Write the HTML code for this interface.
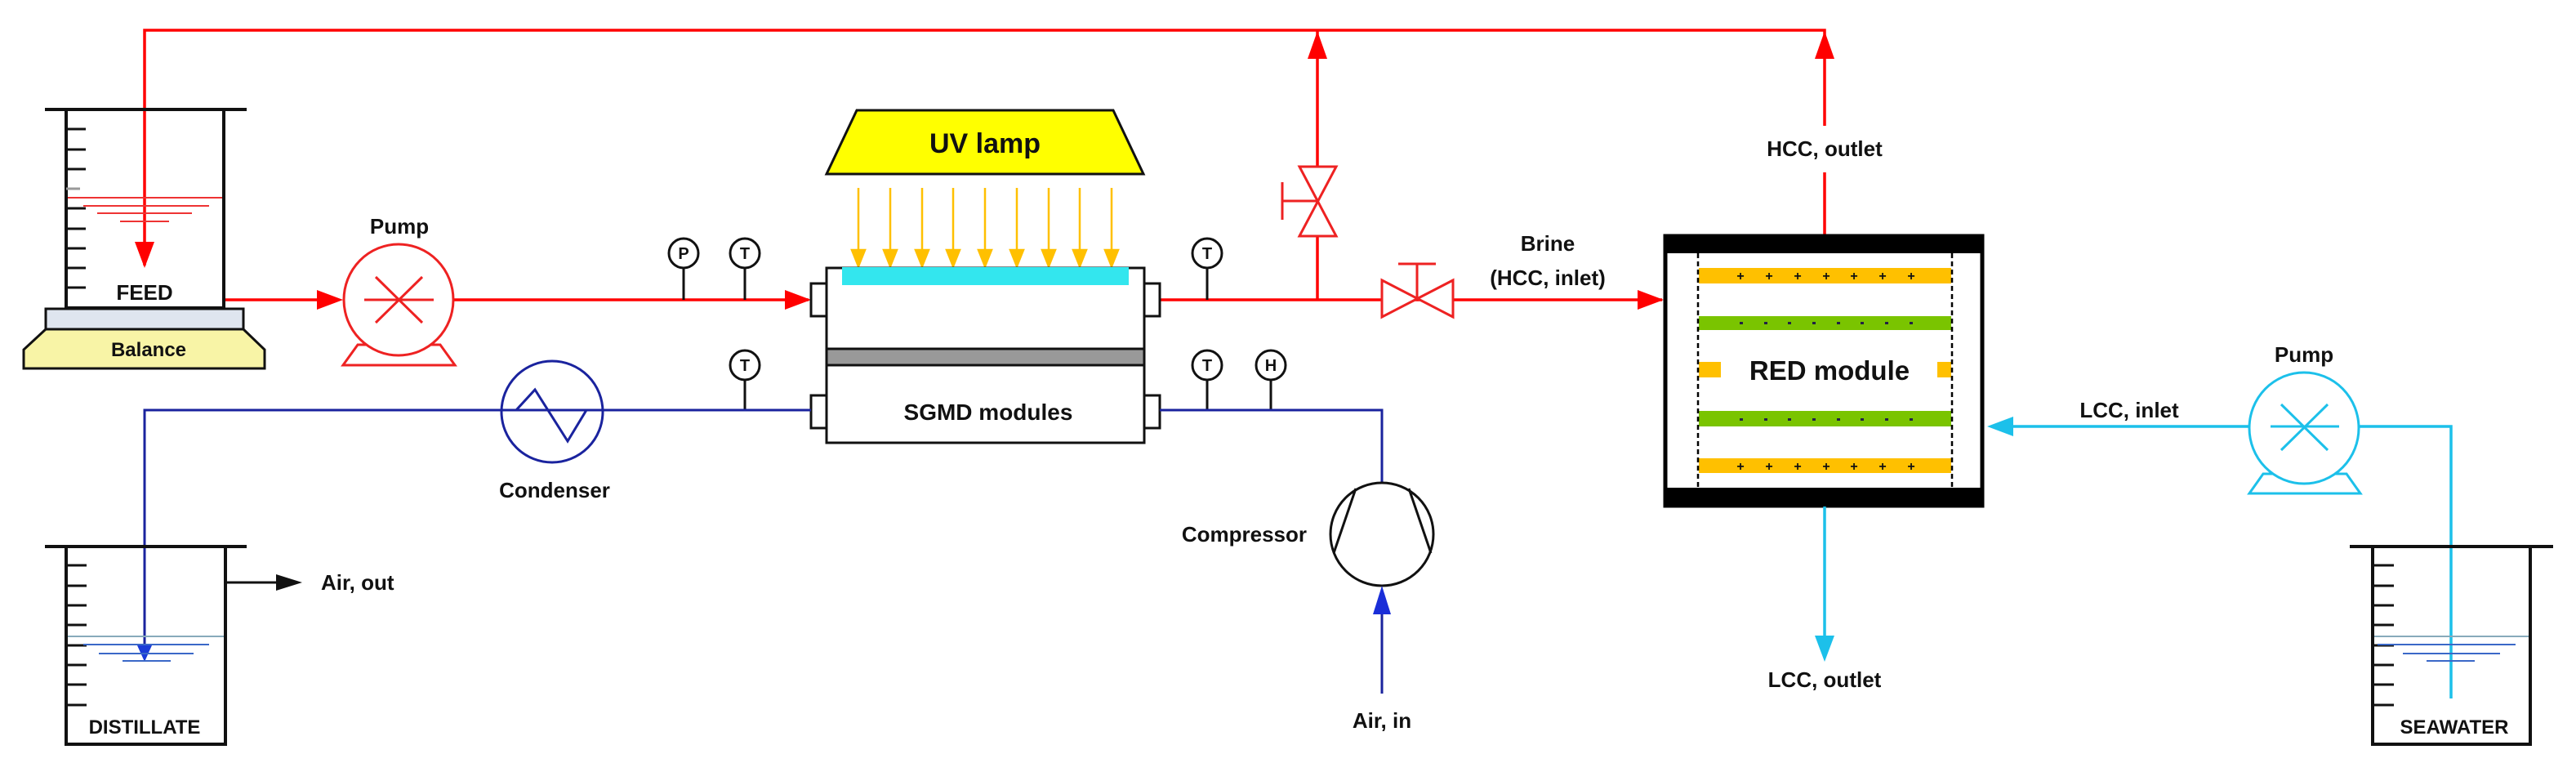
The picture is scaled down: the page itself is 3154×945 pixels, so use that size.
<!DOCTYPE html>
<html><head><meta charset="utf-8"><style>
html,body{margin:0;padding:0;background:#fff;width:3154px;height:945px;overflow:hidden}
svg{display:block}
text{font-family:"Liberation Sans",Arial,sans-serif;font-weight:bold;fill:#111}
</style></head><body>
<svg width="3154" height="945" viewBox="0 0 3154 945" xmlns="http://www.w3.org/2000/svg">
<defs>
<marker id="ar" markerWidth="10" markerHeight="8" refX="10" refY="4" orient="auto" markerUnits="userSpaceOnUse" viewBox="0 0 10 8"><path d="M0,0 L10,4 L0,8 z" fill="#f00"/></marker>
</defs>

<!-- RED top loop -->
<g stroke="#f00" stroke-width="3.5" fill="none">
<polyline points="177,325 177,37 2234,37 2234,154"/>
<line x1="2234" y1="211" x2="2234" y2="290"/>
<line x1="1613" y1="37" x2="1613" y2="367"/>
<line x1="274" y1="367" x2="410" y2="367"/>
<line x1="556" y1="367" x2="990" y2="367"/>
<line x1="1420" y1="367" x2="2035" y2="367"/>
</g>
<g fill="#f00">
<polygon points="177,328 165,296 189,296"/>
<polygon points="420,367 388,355 388,379"/>
<polygon points="993,367 961,355 961,379"/>
<polygon points="2037,367 2005,355 2005,379"/>
<polygon points="1613,38 1601,72 1625,72"/>
<polygon points="2234,38 2222,72 2246,72"/>
</g>

<!-- Feed beaker -->
<g stroke="#111" stroke-width="4" fill="none">
<line x1="55" y1="134" x2="302" y2="134"/>
<polyline points="81,134 81,377 274,377 274,134"/>
</g>
<g stroke="#111" stroke-width="3">
<line x1="81" y1="158" x2="105" y2="158"/><line x1="81" y1="183" x2="105" y2="183"/><line x1="81" y1="207" x2="105" y2="207"/><line x1="81" y1="231" x2="98" y2="231" stroke="#999"/><line x1="81" y1="255" x2="105" y2="255"/><line x1="81" y1="280" x2="105" y2="280"/><line x1="81" y1="304" x2="105" y2="304"/><line x1="81" y1="328" x2="105" y2="328"/><line x1="81" y1="352" x2="105" y2="352"/>
</g>
<g stroke="#e33" stroke-width="2">
<line x1="83" y1="242" x2="272" y2="242"/>
<line x1="102" y1="252" x2="256" y2="252"/>
<line x1="119" y1="261" x2="235" y2="261"/>
<line x1="147" y1="271" x2="207" y2="271"/>
</g>
<text x="177" y="367" font-size="26" text-anchor="middle">FEED</text>
<rect x="56" y="378" width="242" height="25" fill="#dfe5ef" stroke="#111" stroke-width="3"/>
<path d="M56,403 L298,403 L324,428 L324,451 L29,451 L29,428 Z" fill="#f8f4a6" stroke="#111" stroke-width="3"/>
<text x="182" y="436" font-size="24" text-anchor="middle">Balance</text>

<!-- Feed pump -->
<g stroke="#e22" stroke-width="3" fill="#fff">
<polygon points="438,422 420,447 557,447 539,422"/>
<ellipse cx="488" cy="367" rx="67" ry="68"/>
<line x1="446" y1="367" x2="531" y2="367"/>
<line x1="460" y1="339" x2="517" y2="395"/>
<line x1="517" y1="339" x2="460" y2="395"/>
</g>
<text x="489" y="286" font-size="26" text-anchor="middle">Pump</text>

<!-- gauges red line -->
<g stroke="#111" stroke-width="3" fill="#fff">
<line x1="837" y1="328" x2="837" y2="367"/>
<line x1="912" y1="328" x2="912" y2="367"/>
<line x1="1478" y1="328" x2="1478" y2="367"/>
<circle cx="837" cy="310" r="18"/>
<circle cx="912" cy="310" r="18"/>
<circle cx="1478" cy="310" r="18"/>
<line x1="912" y1="445" x2="912" y2="502"/>
<line x1="1478" y1="445" x2="1478" y2="502"/>
<line x1="1556" y1="445" x2="1556" y2="502"/>
<circle cx="912" cy="447" r="18"/>
<circle cx="1478" cy="447" r="18"/>
<circle cx="1556" cy="447" r="18"/>
</g>
<g font-size="20" text-anchor="middle">
<text x="837" y="317">P</text><text x="912" y="317">T</text><text x="1478" y="317">T</text>
<text x="912" y="454">T</text><text x="1478" y="454">T</text><text x="1556" y="454">H</text>
</g>

<!-- UV lamp -->
<polygon points="1049,135 1363,135 1400,213 1012,213" fill="#ffff00" stroke="#111" stroke-width="3"/>
<text x="1206" y="187" font-size="34" text-anchor="middle">UV lamp</text>
<g stroke="#ffc000" stroke-width="2.5" fill="#ffc000">
<line x1="1051" y1="230" x2="1051" y2="310"/><polygon points="1051,326 1043,306 1059,306"/>
<line x1="1090" y1="230" x2="1090" y2="310"/><polygon points="1090,326 1082,306 1098,306"/>
<line x1="1129" y1="230" x2="1129" y2="310"/><polygon points="1129,326 1121,306 1137,306"/>
<line x1="1167" y1="230" x2="1167" y2="310"/><polygon points="1167,326 1159,306 1175,306"/>
<line x1="1206" y1="230" x2="1206" y2="310"/><polygon points="1206,326 1198,306 1214,306"/>
<line x1="1245" y1="230" x2="1245" y2="310"/><polygon points="1245,326 1237,306 1253,306"/>
<line x1="1284" y1="230" x2="1284" y2="310"/><polygon points="1284,326 1276,306 1292,306"/>
<line x1="1322" y1="230" x2="1322" y2="310"/><polygon points="1322,326 1314,306 1330,306"/>
<line x1="1361" y1="230" x2="1361" y2="310"/><polygon points="1361,326 1353,306 1369,306"/>
</g>

<!-- SGMD box -->
<g stroke="#111" stroke-width="3" fill="#fff">
<rect x="993" y="347" width="19" height="40"/>
<rect x="1401" y="347" width="19" height="40"/>
<rect x="993" y="484" width="19" height="40"/>
<rect x="1401" y="484" width="19" height="40"/>
<rect x="1012" y="328" width="389" height="214"/>
</g>
<rect x="1031" y="327" width="351" height="22" fill="#33e6ee"/>
<rect x="1012" y="427" width="389" height="20" fill="#999" stroke="#111" stroke-width="3"/>
<text x="1210" y="514" font-size="28" text-anchor="middle">SGMD modules</text>

<!-- valves -->
<g stroke="#e22" stroke-width="3" fill="#fff">
<polygon points="1591,204 1636,204 1591,289 1636,289"/>
<line x1="1570" y1="246" x2="1613" y2="246"/>
<line x1="1570" y1="223" x2="1570" y2="269"/>
<polygon points="1692,343 1692,388 1779,343 1779,388"/>
<line x1="1735" y1="367" x2="1735" y2="323"/>
<line x1="1712" y1="323" x2="1758" y2="323"/>
</g>
<text x="1895" y="307" font-size="26" text-anchor="middle">Brine</text>
<text x="1895" y="349" font-size="26" text-anchor="middle">(HCC, inlet)</text>
<text x="2234" y="191" font-size="26" text-anchor="middle">HCC, outlet</text>

<!-- Blue line -->
<g stroke="#1a239e" stroke-width="3" fill="none">
<polyline points="993,502 177,502 177,795"/>
<polyline points="1420,502 1692,502 1692,592"/>
</g>
<polygon points="177,810 168,790 186,790" fill="#1a3bd8"/>
<circle cx="676" cy="504" r="62" fill="none" stroke="#1a239e" stroke-width="3"/>
<polyline points="614,502 632,502 655,477 695,540 718,502 738,502" fill="none" stroke="#1a239e" stroke-width="3"/>
<text x="679" y="609" font-size="26" text-anchor="middle">Condenser</text>

<!-- Distillate beaker -->
<g stroke="#111" stroke-width="4" fill="none">
<line x1="55" y1="669" x2="302" y2="669"/>
<polyline points="81,669 81,911 276,911 276,669"/>
</g>
<g stroke="#111" stroke-width="3">
<line x1="81" y1="692" x2="106" y2="692"/><line x1="81" y1="717" x2="106" y2="717"/><line x1="81" y1="741" x2="106" y2="741"/><line x1="81" y1="765" x2="106" y2="765"/><line x1="81" y1="790" x2="106" y2="790"/><line x1="81" y1="814" x2="106" y2="814"/><line x1="81" y1="838" x2="106" y2="838"/><line x1="81" y1="863" x2="106" y2="863"/>
</g>
<g stroke="#3a68c8" stroke-width="2">
<line x1="83" y1="779" x2="274" y2="779" stroke="#8ab"/>
<line x1="102" y1="789" x2="256" y2="789"/>
<line x1="121" y1="800" x2="237" y2="800"/>
<line x1="150" y1="809" x2="209" y2="809"/>
</g>
<text x="177" y="898" font-size="24" text-anchor="middle">DISTILLATE</text>
<line x1="276" y1="713" x2="340" y2="713" stroke="#111" stroke-width="3"/>
<polygon points="370,713 338,703 338,723" fill="#111"/>
<text x="393" y="722" font-size="26">Air, out</text>

<!-- Compressor -->
<ellipse cx="1692" cy="654" rx="63" ry="63" fill="#fff" stroke="#111" stroke-width="3"/>
<line x1="1660" y1="598" x2="1633" y2="677" stroke="#111" stroke-width="3"/>
<line x1="1725" y1="598" x2="1752" y2="677" stroke="#111" stroke-width="3"/>
<text x="1600" y="663" font-size="26" text-anchor="end">Compressor</text>
<line x1="1692" y1="849" x2="1692" y2="740" stroke="#1a239e" stroke-width="3"/>
<polygon points="1692,717 1681,752 1703,752" fill="#1a2ed8"/>
<text x="1692" y="891" font-size="26" text-anchor="middle">Air, in</text>

<!-- RED module -->
<rect x="2039" y="289" width="388" height="330" fill="#fff" stroke="#000" stroke-width="5"/>
<rect x="2037" y="287" width="392" height="23" fill="#000"/>
<rect x="2037" y="597" width="392" height="23" fill="#000"/>
<rect x="2080" y="328" width="309" height="19" fill="#ffc000"/>
<rect x="2080" y="387" width="309" height="17" fill="#7ac400"/>
<rect x="2080" y="503" width="309" height="19" fill="#7ac400"/>
<rect x="2080" y="561" width="309" height="18" fill="#ffc000"/>
<rect x="2080" y="443" width="27" height="19" fill="#ffc000"/>
<rect x="2372" y="443" width="17" height="19" fill="#ffc000"/>
<g stroke="#000" stroke-width="2.5" stroke-dasharray="6,4">
<line x1="2079" y1="310" x2="2079" y2="597"/>
<line x1="2390" y1="310" x2="2390" y2="597"/>
</g>
<g font-size="16" text-anchor="middle" fill="#222">
<text x="2131" y="343">+</text><text x="2166" y="343">+</text><text x="2201" y="343">+</text><text x="2236" y="343">+</text><text x="2270" y="343">+</text><text x="2305" y="343">+</text><text x="2340" y="343">+</text>
<text x="2131" y="576">+</text><text x="2166" y="576">+</text><text x="2201" y="576">+</text><text x="2236" y="576">+</text><text x="2270" y="576">+</text><text x="2305" y="576">+</text><text x="2340" y="576">+</text>
</g>
<g fill="#224">
<rect x="2130" y="394" width="4" height="3"/><rect x="2160" y="394" width="4" height="3"/><rect x="2189" y="394" width="4" height="3"/><rect x="2219" y="394" width="4" height="3"/><rect x="2249" y="394" width="4" height="3"/><rect x="2278" y="394" width="4" height="3"/><rect x="2308" y="394" width="4" height="3"/><rect x="2338" y="394" width="4" height="3"/>
<rect x="2130" y="512" width="4" height="3"/><rect x="2160" y="512" width="4" height="3"/><rect x="2189" y="512" width="4" height="3"/><rect x="2219" y="512" width="4" height="3"/><rect x="2249" y="512" width="4" height="3"/><rect x="2278" y="512" width="4" height="3"/><rect x="2308" y="512" width="4" height="3"/><rect x="2338" y="512" width="4" height="3"/>
</g>
<text x="2240" y="465" font-size="33" text-anchor="middle">RED module</text>

<!-- Cyan -->
<g stroke="#1cc0ea" stroke-width="3.5" fill="none">
<line x1="2234" y1="620" x2="2234" y2="785"/>
<line x1="2460" y1="522" x2="2754" y2="522"/>
<polyline points="2889,522 3001,522 3001,855"/>
</g>
<polygon points="2234,810 2222,778 2246,778" fill="#1cc0ea"/>
<polygon points="2433,522 2465,510 2465,534" fill="#1cc0ea"/>
<g stroke="#1cc0ea" stroke-width="3" fill="#fff">
<polygon points="2771,580 2754,604 2890,604 2873,580"/>
<ellipse cx="2821" cy="524" rx="67" ry="68"/>
<line x1="2780" y1="522" x2="2864" y2="522"/>
<line x1="2793" y1="495" x2="2850" y2="551"/>
<line x1="2850" y1="495" x2="2793" y2="551"/>
</g>
<text x="2821" y="443" font-size="26" text-anchor="middle">Pump</text>
<text x="2607" y="511" font-size="26" text-anchor="middle">LCC, inlet</text>
<text x="2234" y="841" font-size="26" text-anchor="middle">LCC, outlet</text>

<!-- Seawater beaker -->
<g stroke="#111" stroke-width="4" fill="none">
<line x1="2877" y1="669" x2="3126" y2="669"/>
<polyline points="2905,669 2905,911 3098,911 3098,669"/>
</g>
<g stroke="#111" stroke-width="3">
<line x1="2905" y1="692" x2="2931" y2="692"/><line x1="2905" y1="717" x2="2931" y2="717"/><line x1="2905" y1="741" x2="2931" y2="741"/><line x1="2905" y1="765" x2="2931" y2="765"/><line x1="2905" y1="790" x2="2931" y2="790"/><line x1="2905" y1="814" x2="2931" y2="814"/><line x1="2905" y1="838" x2="2931" y2="838"/><line x1="2905" y1="863" x2="2931" y2="863"/>
</g>
<g stroke="#3a68c8" stroke-width="2">
<line x1="2907" y1="779" x2="3096" y2="779" stroke="#8ab"/>
<line x1="2911" y1="789" x2="3080" y2="789"/>
<line x1="2942" y1="800" x2="3061" y2="800"/>
<line x1="2971" y1="809" x2="3030" y2="809"/>
</g>
<text x="3005" y="898" font-size="24" text-anchor="middle">SEAWATER</text>
</svg>
</body></html>
